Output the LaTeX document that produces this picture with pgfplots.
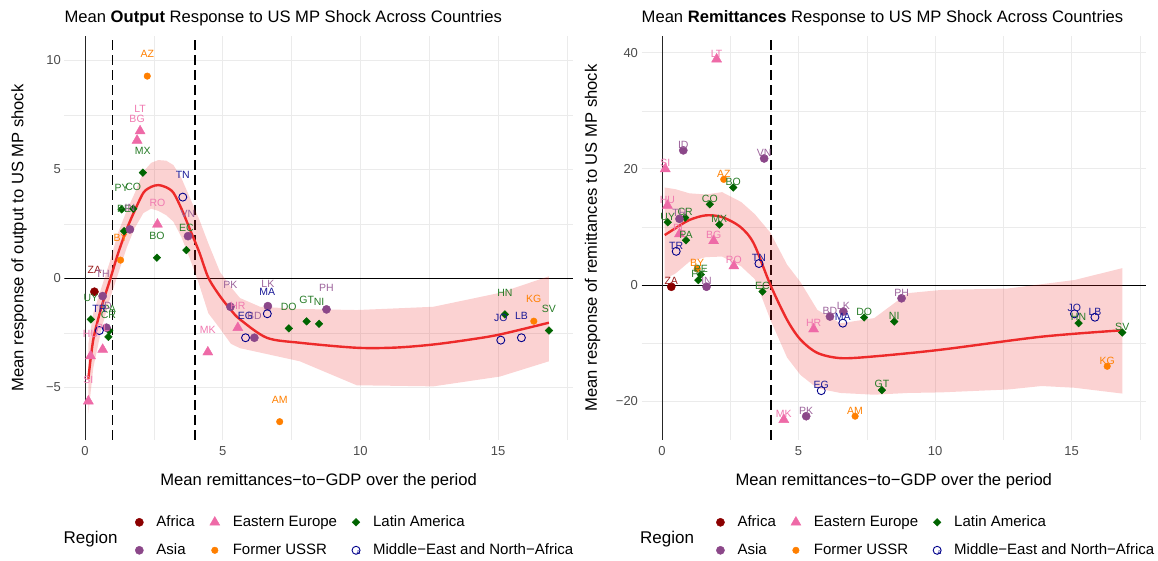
\documentclass[border=0pt]{standalone}
\usepackage{pgfplots}
\pgfplotsset{compat=1.18}
\usepackage{pgfplotstable}
\usepackage{fontspec}
\setmainfont{Liberation Sans}

\definecolor{afr}{HTML}{8B0000}
\definecolor{asia}{HTML}{8B4789}
\definecolor{eeu}{HTML}{EE6AA7}
\definecolor{ussr}{HTML}{FF7F00}
\definecolor{lam}{HTML}{006400}
\definecolor{mena}{HTML}{00008B}
\definecolor{smc}{HTML}{ED2A2A}
\definecolor{gridc}{HTML}{EBEBEB}

% x = remittances-to-GDP, yo = output response, yr = remittances response
\pgfplotstableread{
x yo yr lab
0.34 -0.61 -0.30 ZA
}\tafr
\pgfplotstableread{
x yo yr lab
0.64 -0.81 11.4 TH
0.78 -2.26 23.2 ID
1.63 2.25 -0.30 IN
3.74 1.94 21.8 VN
5.28 -1.30 -22.6 PK
6.15 -2.72 -5.43 BD
6.64 -1.27 -4.57 LK
8.77 -1.42 -2.29 PH
}\tasia
\pgfplotstableread{
x yo yr lab
0.12 -5.63 20.0 SI
0.20 -3.56 13.7 HU
0.64 -3.26 8.8 PL
1.89 6.33 7.6 BG
2.00 6.76 38.9 LT
2.63 2.48 3.26 RO
4.46 -3.38 -23.2 MK
5.55 -2.26 -7.6 HR
}\teeu
\pgfplotstableread{
x yo yr lab
1.29 0.84 2.8 BY
2.26 9.28 18.2 AZ
7.07 -6.57 -22.6 AM
16.30 -1.96 -14.0 KG
}\tussr
\pgfplotstableread{
x yo yr lab
0.21 -1.88 10.8 UY
0.85 -2.68 11.6 CR
0.88 -2.40 7.7 PA
1.33 3.17 0.85 PY
1.42 2.17 1.8 PE
1.75 3.20 13.9 CO
2.10 4.85 10.4 MX
2.61 0.95 16.8 BO
3.68 1.30 -1.14 EC
7.40 -2.29 -5.6 DO
8.05 -1.97 -18.1 GT
8.50 -2.08 -6.29 NI
15.25 -1.65 -6.57 HN
16.85 -2.39 -8.17 SV
}\tlam
\pgfplotstableread{
x yo yr lab
0.52 -2.39 5.8 TR
3.55 3.73 3.7 TN
5.83 -2.72 -18.2 EG
6.62 -1.62 -6.57 MA
15.10 -2.83 -4.97 JO
15.85 -2.72 -5.55 LB
}\tmena

\newcommand\lblfont{\fontsize{10.5}{12}\selectfont}

\pgfplotsset{
  panel/.style={
    scale only axis, height=404pt,
    xmin=-0.75, xmax=17.72,
    axis line style={draw=none}, tick style={draw=none},
    xtick={0,5,10,15}, xticklabels={0,5,10,15},
    minor xtick={2.5,7.5,12.5,17.5},
    grid=both,
    major grid style={line width=0.9pt, draw=gridc},
    minor grid style={line width=0.5pt, draw=gridc},
    ticklabel style={font=\fontsize{13}{15}\selectfont, text=black!70},
    xticklabel style={yshift=-3pt},
    label style={font=\fontsize{16.6}{19}\selectfont},
    xlabel={Mean remittances−to−GDP over the period},
    xlabel style={at={(axis description cs:0.5,-0.1114)}, anchor=base},
    title style={at={(axis description cs:0,1.018)}, anchor=base west, font=\fontsize{16.6}{19}\selectfont, inner sep=0pt},
    legend columns=3, legend cell align=left,
    legend style={draw=none, fill=none, anchor=north west,
      font=\fontsize{15}{18}\selectfont,
      nodes={inner sep=2pt, text height=11pt, text depth=3pt},
      row sep=10pt,
      /tikz/every odd column/.append style={column sep=11pt},
      /tikz/every even column/.append style={column sep=13pt}},
    legend image code/.code={\draw[##1] plot coordinates {(0pt,0pt)};},
  },
  pafr/.style={only marks, mark=*, color=afr, mark size=4.1pt},
  pasia/.style={only marks, mark=*, color=asia, mark size=4.1pt},
  peeu/.style={only marks, mark=triangle*, color=eeu, mark size=5.8pt},
  pussr/.style={only marks, mark=*, color=ussr, mark size=3.3pt},
  plam/.style={only marks, mark=square*, color=lam, mark size=2.7pt, mark options={rotate=45}},
  pmena/.style={only marks, mark=o, color=mena, mark size=4pt, line width=0.9pt,
    legend image code/.code={\draw[##1] plot coordinates {(0pt,0pt)};
      \node[font=\fontsize{6.5}{7}\selectfont, text=mena, inner sep=0pt] at (0pt,0.3pt) {a};}},
  lbl/.style 2 args={forget plot, only marks, mark=none, nodes near coords,
    point meta=explicit symbolic,
    nodes near coords style={font=\lblfont, text=#1, anchor=center, yshift=#2, inner sep=0pt}},
  dashl/.style={forget plot, black, line width=1.7pt, dash pattern=on 10pt off 5pt},
}

\begin{document}
\begin{tikzpicture}
\useasboundingbox (0,0) rectangle (1158pt,561pt);

% ---------------- LEFT PANEL ----------------
\begin{axis}[panel, name=L, at={(64.4pt,121pt)}, anchor=south west, width=508.5pt,
  ymin=-7.41, ymax=11.12,
  ytick={-5,0,5,10}, yticklabels={−5,0,5,10}, minor ytick={-2.5,2.5,7.5},
  ylabel={Mean response of output to US MP shock},
  ylabel style={at={(axis description cs:-0.0892,0.5)}, anchor=center},
  title={Mean \textbf{Output} Response to US MP Shock Across Countries},
  legend style={at={(axis description cs:0.133,-0.176)}}]

\addplot[forget plot, black, line width=0.8pt] coordinates {(-0.75,0) (17.72,0)};
\addplot[forget plot, black!85, line width=0.8pt] coordinates {(0,-7.41) (0,11.12)};
\addplot[dashl] coordinates {(1,-7.41) (1,11.12)};
\addplot[dashl] coordinates {(4,-7.41) (4,11.12)};

\addplot[forget plot, draw=none, fill=smc, fill opacity=0.21] coordinates {
(0.12,-3.0) (0.3,-1.6) (0.6,-0.4) (0.91,0.8) (1.2,2.1) (1.51,3.1) (1.8,3.9) (2.12,4.9)
(2.4,5.3) (2.66,5.43) (2.95,5.4) (3.21,5.2) (3.5,4.6) (3.81,3.7) (4.15,2.7) (4.48,1.6)
(4.9,0.3) (5.3,-0.4) (5.63,-0.9) (6.36,-1.3) (7.8,-1.4) (9.87,-1.45) (12.65,-1.3)
(15.07,-0.66) (16.85,0.1)
(16.85,-3.8) (15.07,-4.5) (12.65,-4.95) (9.87,-4.9) (7.8,-3.8) (6.36,-3.4) (5.63,-3.2)
(5.3,-3.0) (4.9,-2.3) (4.48,-1.6) (4.15,-0.3) (3.81,0.9) (3.5,1.9) (3.21,2.6) (2.95,2.9)
(2.66,3.1) (2.4,3.2) (2.12,3.0) (1.8,2.3) (1.51,1.4) (1.2,0.2) (0.91,-0.9) (0.6,-2.3)
(0.3,-4.1) (0.12,-6.2)};
\addplot[forget plot, smooth, smc, line width=2.4pt] coordinates {
(0.12,-4.6) (0.3,-2.8) (0.6,-1.3) (0.91,-0.05) (1.2,1.15) (1.51,2.25) (1.8,3.1) (2.12,3.93)
(2.4,4.2) (2.66,4.28) (2.95,4.18) (3.21,3.93) (3.5,3.2) (3.81,2.25) (4.15,1.2) (4.48,0.03)
(4.9,-0.81) (5.3,-1.45) (5.63,-1.88) (6.6,-2.72) (7.8,-2.95) (9.87,-3.18) (11.3,-3.17)
(12.65,-3.03) (14.0,-2.8) (15.07,-2.57) (16.85,-2.03)};

\addplot[pafr] table[x=x,y=yo] {\tafr};
\addplot[peeu] table[x=x,y=yo] {\teeu};
\addplot[plam] table[x=x,y=yo] {\tlam};
\addplot[pasia] table[x=x,y=yo] {\tasia};
\addplot[pussr] table[x=x,y=yo] {\tussr};
\addplot[pmena] table[x=x,y=yo] {\tmena};
\legend{Africa, Eastern Europe, Latin America, Asia, Former USSR, Middle−East and North−Africa}

\addplot[lbl={afr!90}{21.8pt}] table[x=x,y=yo,meta=lab] {\tafr};
\addplot[lbl={eeu!90}{21.8pt}] table[x=x,y=yo,meta=lab] {\teeu};
\addplot[lbl={lam!85!white}{21.8pt}] table[x=x,y=yo,meta=lab] {\tlam};
\addplot[lbl={asia!85}{21.8pt}] table[x=x,y=yo,meta=lab] {\tasia};
\addplot[lbl={ussr}{21.8pt}] table[x=x,y=yo,meta=lab] {\tussr};
\addplot[lbl={mena!90}{21.8pt}] table[x=x,y=yo,meta=lab] {\tmena};
\end{axis}
\node[anchor=west, font=\fontsize{17}{20}\selectfont, inner sep=0pt] at ([xshift=-1pt,yshift=-99pt]L.south west) {Region};

% ---------------- RIGHT PANEL ----------------
\begin{axis}[panel, name=R, at={(641.5pt,121pt)}, anchor=south west, width=504.5pt,
  ymin=-26.7, ymax=42.9,
  ytick={-20,0,20,40}, yticklabels={−20,0,20,40}, minor ytick={-10,10,30},
  ylabel={Mean response of remittances to US MP shock},
  ylabel style={at={(axis description cs:-0.097,0.5)}, anchor=center},
  title={Mean \textbf{Remittances} Response to US MP Shock Across Countries},
  legend style={at={(axis description cs:0.142,-0.176)}}]

\addplot[forget plot, black, line width=0.8pt] coordinates {(-0.75,0) (17.72,0)};
\addplot[forget plot, black!85, line width=0.8pt] coordinates {(0,-26.7) (0,42.9)};
\addplot[dashl] coordinates {(4,-26.7) (4,42.9)};

\addplot[forget plot, draw=none, fill=smc, fill opacity=0.21] coordinates {
(0.1,16.8) (0.5,16.5) (1.0,15.8) (1.6,15.6) (2.2,16.0) (2.9,14.3) (3.4,12.2) (3.97,9.0)
(4.58,3.5) (5.07,0.5) (5.69,-4.3) (6.54,-6.6) (7.77,-5.7) (9.0,-1.4) (10.2,-0.86)
(12.67,-0.6) (15.1,0.86) (16.85,2.9)
(16.85,-18.7) (15.1,-17.7) (13.9,-17.4) (12.67,-18.0) (10.2,-18.5) (9.0,-18.6) (7.77,-18.9)
(6.54,-18.6) (5.69,-17.8) (5.07,-15.5) (4.58,-12.5) (3.97,-6.0) (3.4,1.0) (2.9,3.2)
(2.2,4.9) (1.6,4.8) (1.0,4.0) (0.5,2.0) (0.1,1.0)};
\addplot[forget plot, smooth, smc, line width=2.4pt] coordinates {
(0.1,8.6) (0.5,9.8) (1.0,11.2) (1.6,12.0) (2.2,11.7) (2.87,10.0) (3.36,7.15) (3.97,0)
(4.58,-6.0) (5.07,-9.4) (5.69,-11.7) (6.54,-12.6) (7.77,-12.3) (10.2,-11.15) (13.9,-8.9)
(16.85,-7.8)};

\addplot[pafr] table[x=x,y=yr] {\tafr};
\addplot[peeu] table[x=x,y=yr] {\teeu};
\addplot[plam] table[x=x,y=yr] {\tlam};
\addplot[pasia] table[x=x,y=yr] {\tasia};
\addplot[pussr] table[x=x,y=yr] {\tussr};
\addplot[pmena] table[x=x,y=yr] {\tmena};
\legend{Africa, Eastern Europe, Latin America, Asia, Former USSR, Middle−East and North−Africa}

\addplot[lbl={afr!90}{5.8pt}] table[x=x,y=yr,meta=lab] {\tafr};
\addplot[lbl={eeu!90}{5.8pt}] table[x=x,y=yr,meta=lab] {\teeu};
\addplot[lbl={lam!85!white}{5.8pt}] table[x=x,y=yr,meta=lab] {\tlam};
\addplot[lbl={asia!85}{5.8pt}] table[x=x,y=yr,meta=lab] {\tasia};
\addplot[lbl={ussr}{5.8pt}] table[x=x,y=yr,meta=lab] {\tussr};
\addplot[lbl={mena!90}{5.8pt}] table[x=x,y=yr,meta=lab] {\tmena};
\end{axis}
\node[anchor=west, font=\fontsize{17}{20}\selectfont, inner sep=0pt] at ([xshift=-1.5pt,yshift=-99pt]R.south west) {Region};

\end{tikzpicture}
\end{document}
